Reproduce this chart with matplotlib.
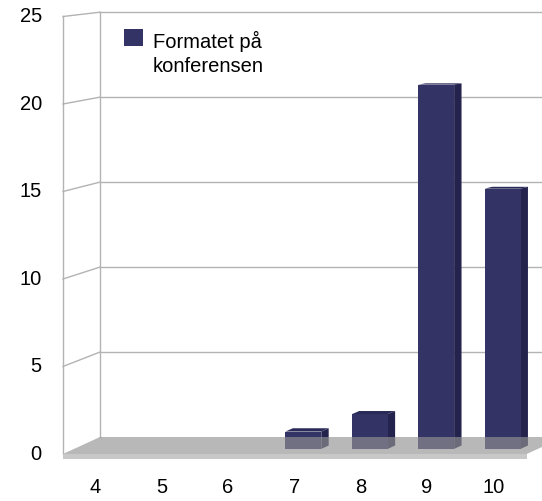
import matplotlib
matplotlib.use("Agg")
import matplotlib.pyplot as plt
from matplotlib.patches import Polygon, Rectangle

# data
categories = ["4", "5", "6", "7", "8", "9", "10"]
values = [0, 0, 0, 1, 2, 21, 15]
yticks = [0, 5, 10, 15, 20, 25]
series_name = "Formatet på\nkonferensen"

bar_color = "#333366"
grid_color = "#b3b3b3"
plt.rcParams["font.family"] = ["Liberation Sans", "DejaVu Sans"]

fig = plt.figure(figsize=(5.42, 5.02), dpi=100)
ax = fig.add_axes([0, 0, 1, 1])
ax.set_xlim(-1.43, 6.73)
ax.set_ylim(-2.686, 26.0)
ax.set_axis_off()


# fake 3d: d is depth, 0 = front, 1 = back wall
def proj(x, v, d):
    return (x + 0.557 * d, v * (1 - 0.029 * d) + 0.971 * d)


x_left = -0.482
x_right = 6.5
ymax = yticks[-1]

# walls
for p0, p1 in [((x_left, 0, 0), (x_left, ymax, 0)), ((x_left, 0, 1), (x_left, ymax, 1))]:
    a = proj(*p0)
    b = proj(*p1)
    ax.plot([a[0], b[0]], [a[1], b[1]], color=grid_color, lw=1.0, zorder=1)
for v in yticks[1:]:
    a = proj(x_left, v, 0)
    b = proj(x_left, v, 1)
    ax.plot([a[0], b[0]], [a[1], b[1]], color=grid_color, lw=1.0, zorder=1)
    ax.plot([b[0], 7.5], [b[1], b[1]], color=grid_color, lw=1.0, zorder=1)

# bars
d1, d2 = 0.3, 0.5
for i, v in enumerate(values):
    if v <= 0:
        continue
    x0, x1 = i - 0.3, i + 0.24
    front = [proj(x0, 0, d1), proj(x1, 0, d1), proj(x1, v, d1), proj(x0, v, d1)]
    side = [proj(x1, 0, d1), proj(x1, 0, d2), proj(x1, v, d2), proj(x1, v, d1)]
    top = [proj(x0, v, d1), proj(x1, v, d1), proj(x1, v, d2), proj(x0, v, d2)]
    ax.add_patch(Polygon(side, closed=True, facecolor="#23234d", edgecolor="none", zorder=2))
    ax.add_patch(Polygon(front, closed=True, facecolor=bar_color, edgecolor="none", zorder=2))
    ax.add_patch(Polygon(top, closed=True, facecolor="#2a2a58", edgecolor="none", zorder=2))

# floor
floor_top = [proj(x_left, 0, 0), proj(x_right, 0, 0), proj(x_right, 0, 1), proj(x_left, 0, 1)]
floor_front = [proj(x_left, 0, 0), proj(x_right, 0, 0), proj(x_right, -0.3, 0), proj(x_left, -0.3, 0)]
ax.add_patch(Polygon(floor_top, closed=True, facecolor="#929292", alpha=0.65, edgecolor="none", zorder=3))
ax.add_patch(Polygon(floor_front, closed=True, facecolor="#c8c8c8", edgecolor="none", zorder=3))

# tick labels
for v in yticks:
    ax.text(-0.8, v + 0.05, str(v), ha="right", va="center", fontsize=14.5, zorder=4)
for i, c in enumerate(categories):
    ax.text(i, -1.83, c, ha="center", va="center", fontsize=14.5, zorder=4)

# legend
fig.patches.append(Rectangle((124 / 542, 1 - 47 / 502), 19 / 542, 17 / 502,
                             transform=fig.transFigure, facecolor=bar_color, edgecolor="none"))
fig.text(153 / 542, 1 - 31 / 502, series_name, ha="left", va="top", fontsize=14.5, linespacing=1.35)

fig.savefig("out.png", dpi=100)
